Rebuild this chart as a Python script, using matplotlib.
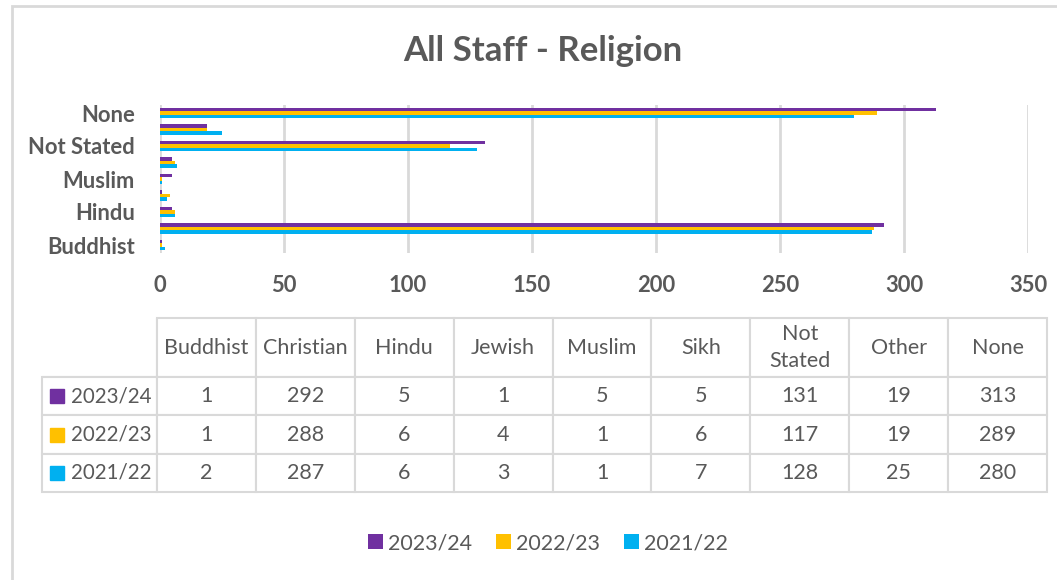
import matplotlib.pyplot as plt
from matplotlib.patches import Rectangle
import numpy as np

plt.rcParams['font.family'] = ['Lato', 'DejaVu Sans']

religions = ["Buddhist", "Christian", "Hindu", "Jewish", "Muslim", "Sikh",
             "Not Stated", "Other", "None"]
table_heads = ["Buddhist", "Christian", "Hindu", "Jewish", "Muslim", "Sikh",
               "Not\nStated", "Other", "None"]
years = ["2023/24", "2022/23", "2021/22"]
staff_2324 = [1, 292, 5, 1, 5, 5, 131, 19, 313]
staff_2223 = [1, 288, 6, 4, 1, 6, 117, 19, 289]
staff_2122 = [2, 287, 6, 3, 1, 7, 128, 25, 280]
x_ticks = [0, 50, 100, 150, 200, 250, 300, 350]

colours = ["#7030A0", "#FFC000", "#00B0F0"]
grey_txt = "#595959"
grid_col = "#D9D9D9"

W, H = 1057, 580
fig = plt.figure(figsize=(W / 100, H / 100), dpi=100)


def box(x0, y0, x1, y1):
    # pixel box (from top-left) -> figure rect
    return [x0 / W, 1 - y1 / H, (x1 - x0) / W, (y1 - y0) / H]


# outer chart frame
fig.patches.append(Rectangle((12 / W, -0.05), 1.2, 1 - 6 / H + 0.05,
                             transform=fig.transFigure, fill=False,
                             edgecolor=grid_col, lw=2))

fig.text(543 / W, 1 - 51 / H, "All Staff - Religion", ha="center", va="center",
         fontsize=25, fontweight="bold", color=grey_txt)

# bar chart
ax = fig.add_axes(box(160, 104.75, 1028, 253.25))
y = np.arange(len(religions))
h = 0.21
series = [staff_2324, staff_2223, staff_2122]
for i, (vals, col, yr) in enumerate(zip(series, colours, years)):
    ax.barh(y + (1 - i) * h, vals, height=h, color=col, label=yr, zorder=3)

ax.set_xlim(0, 350)
ax.set_ylim(-0.5, len(religions) - 0.5)
ax.set_xticks(x_ticks)
ax.set_yticks(y[::2])
ax.set_yticklabels(religions[::2])
ax.grid(axis="x", color=grid_col, lw=2, zorder=0)
for s in ax.spines.values():
    s.set_visible(False)
ax.tick_params(length=0, labelsize=15.8, labelcolor=grey_txt)
ax.tick_params(axis="x", pad=16)
ax.tick_params(axis="y", pad=18)
for lab in ax.get_xticklabels() + ax.get_yticklabels():
    lab.set_fontweight("bold")

# data table
ax2 = fig.add_axes(box(42, 318, 1047, 492))
ax2.axis("off")
cells = [[""] + table_heads]
for yr, vals in zip(years, series):
    cells.append([yr] + [str(v) for v in vals])
col_w = [115] + [98.9] * len(religions)
tbl = ax2.table(cellText=cells, colWidths=col_w, bbox=[0, 0, 1, 1],
                cellLoc="center")
tbl.auto_set_font_size(False)
row_h = [59, 38.3, 38.3, 38.3]
for (r, c), cell in tbl.get_celld().items():
    cell.set_height(row_h[r])
    cell.set_edgecolor(grid_col)
    cell.set_linewidth(1.5)
    txt = cell.get_text()
    txt.set_color(grey_txt)
    txt.set_fontsize(15.5)
    txt.set_linespacing(1.45)
    if c == 0:
        txt.set_fontsize(14.8)
        txt.set_ha("right")
        cell.PAD = 0.05
        cell._loc = "right"
tbl[0, 0].visible_edges = "BR"

# legend keys inside the row-header cells
tot_h = sum(row_h)
for i, col in enumerate(colours):
    yc = 1 - (row_h[0] + row_h[1] * (i + 0.5)) / tot_h
    ax2.add_patch(Rectangle((8 / 1005, yc - 7 / 174), 14 / 1005, 14 / 174,
                            transform=ax2.transAxes, color=col, clip_on=False))

fig.legend(*ax.get_legend_handles_labels(), loc="center",
           bbox_to_anchor=(548 / W, 1 - 543 / H), ncol=3, frameon=False,
           fontsize=15.4, labelcolor=grey_txt, handlelength=0.7,
           handleheight=0.7, handletextpad=0.25, columnspacing=1.1)

fig.savefig("out.png", dpi=100)
